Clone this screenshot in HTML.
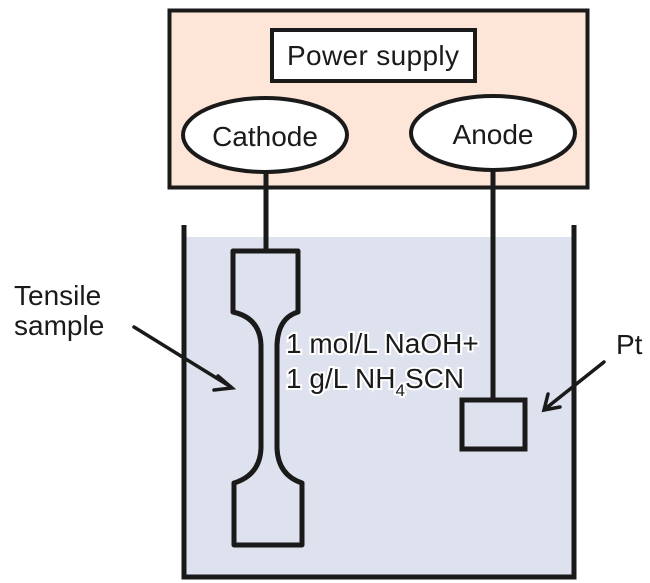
<!DOCTYPE html>
<html><head><style>html,body{margin:0;padding:0;background:#fff}svg{display:block}</style></head>
<body>
<svg width="650" height="583" viewBox="0 0 650 583" xmlns="http://www.w3.org/2000/svg" font-family="Liberation Sans, sans-serif">
<rect x="186" y="237" width="386" height="338" fill="#dde2ee"/>
<rect x="169.5" y="10.5" width="418" height="177" fill="#fde6d8" stroke="#1a1a1a" stroke-width="4"/>
<rect x="272" y="30" width="203" height="51" fill="#fff" stroke="#1a1a1a" stroke-width="4"/>
<text x="373" y="65" font-size="28" text-anchor="middle" fill="#1a1a1a" textLength="172">Power supply</text>
<ellipse cx="265" cy="135" rx="82" ry="37" fill="#fff" stroke="#1a1a1a" stroke-width="4"/>
<text x="265" y="146" font-size="28" text-anchor="middle" fill="#1a1a1a">Cathode</text>
<ellipse cx="493" cy="133" rx="82" ry="37" fill="#fff" stroke="#1a1a1a" stroke-width="4"/>
<text x="493" y="144" font-size="28" text-anchor="middle" fill="#1a1a1a">Anode</text>
<line x1="266" y1="172" x2="266" y2="251" stroke="#1a1a1a" stroke-width="5"/>
<line x1="493" y1="171" x2="493" y2="401" stroke="#1a1a1a" stroke-width="5"/>
<polyline points="184,225 184,577 574,577 574,225" fill="none" stroke="#1a1a1a" stroke-width="5"/>
<path d="M233,251 L298,251 L298,312 Q278,318 277,345 L277,448 Q278,475 302,483 L302,545 L234,545 L234,483 Q260,475 261,448 L261,345 Q260,318 233,312 Z" fill="none" stroke="#1a1a1a" stroke-width="5" stroke-linejoin="round"/>
<rect x="462" y="400" width="63" height="49" fill="none" stroke="#1a1a1a" stroke-width="5"/>
<g font-size="28" fill="#1a1a1a" stroke="#fff" stroke-width="4" paint-order="stroke">
<text x="286" y="353">1 mol/L NaOH+</text>
<text x="286" y="388">1 g/L NH<tspan font-size="17" dy="8">4</tspan><tspan dy="-8">SCN</tspan></text>
</g>
<text x="14" y="305" font-size="28" fill="#1a1a1a">Tensile</text>
<text x="14" y="335" font-size="28" fill="#1a1a1a">sample</text>
<text x="616" y="354" font-size="28" fill="#1a1a1a">Pt</text>
<g stroke="#1a1a1a" stroke-width="3.5" fill="none" stroke-linecap="round">
<line x1="134" y1="327" x2="231" y2="387"/>
<polyline points="218,376 232,388 214,390"/>
<line x1="604" y1="362" x2="545" y2="409"/>
<polyline points="548,394 544,410 560,407"/>
</g>
</svg>
</body></html>
